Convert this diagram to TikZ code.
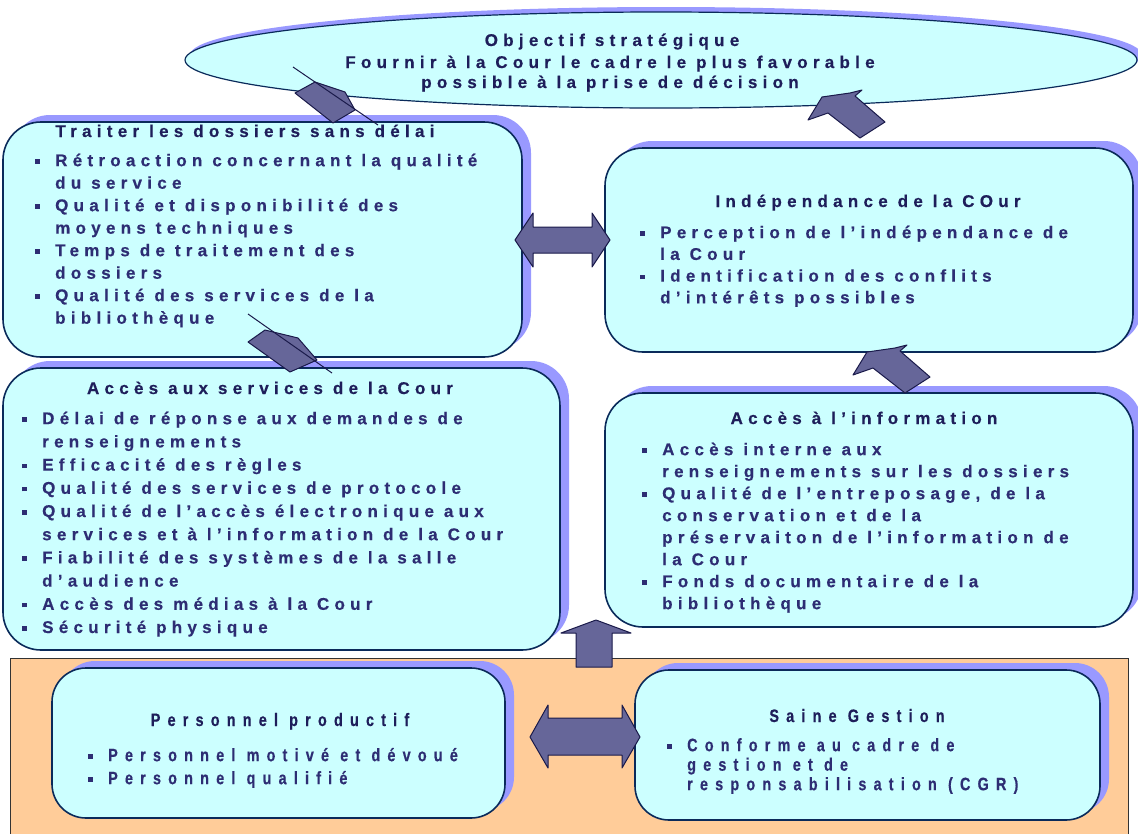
\documentclass[tikz,border=0pt]{standalone}
\usepackage{fontspec}
\setmainfont{Liberation Sans}
\newfontfamily\spc{Liberation Sans}[LetterSpace=31,FakeBold=0.4]
\newfontfamily\spn{Liberation Sans}[LetterSpace=40,FakeStretch=0.8,FakeBold=0.4]
\usetikzlibrary{shapes.geometric,shadows}
\definecolor{boxfill}{HTML}{CCFFFF}
\definecolor{shad}{HTML}{9999FF}
\definecolor{bord}{HTML}{0A2A5A}
\definecolor{txt}{HTML}{2D2D73}
\definecolor{ttl}{HTML}{1E1E5A}
\definecolor{arr}{HTML}{666699}
\definecolor{arrb}{HTML}{1A1A4A}
\definecolor{orng}{HTML}{FFCC99}
\newcommand\bul{\makebox[20pt][l]{\rule[2.5pt]{4.5pt}{4.5pt}}}
\newcommand\cnt{\hspace*{20pt}}
\newcommand\fst{\rule{0pt}{14pt}}
\begin{document}
\begin{tikzpicture}[x=1pt,y=-1pt,
  box/.style={draw=bord,line width=1.6pt,fill=boxfill,rounded corners=38pt,inner sep=0pt,
     drop shadow={shadow xshift=9pt,shadow yshift=7pt,fill=shad,opacity=1}},
  ttlnode/.style={anchor=base,inner sep=0pt,text=ttl,font=\spc\bfseries\fontsize{17}{22.5}\selectfont},
  body/.style={anchor=north west,inner sep=0pt,align=left,text=txt,font=\spc\bfseries\fontsize{17}{#1}\selectfont},
  body/.default=22.5,
  ttlc/.style={ttlnode,font=\spn\bfseries\fontsize{18}{22}\selectfont},
  bodyc/.style={body,font=\spn\bfseries\fontsize{18}{#1}\selectfont},
  blk/.style={fill=arr,draw=arrb,line width=1pt,line join=round},
  blkline/.style={draw=arrb,line width=1pt}]
\useasboundingbox (0,0) rectangle (1138,833);
\fill[white] (0,0) rectangle (1138,833);
% bottom panel
\node[draw=black!80,line width=1pt,fill=orng,minimum width=1118pt,minimum height=190pt,inner sep=0pt] (panel) at (569,753) {};
% boxes
\node[box,minimum width=519pt,minimum height=235pt] (b1) at (262.5,239.5) {};
\node[box,minimum width=528pt,minimum height=204pt] (b2) at (869,250) {};
\node[box,minimum width=557pt,minimum height=282pt] (b3) at (281.5,509) {};
\node[box,minimum width=528pt,minimum height=234pt] (b4) at (869,510) {};
\node[box,rounded corners=34pt,minimum width=453pt,minimum height=150pt] (b5) at (278.5,743) {};
\node[box,rounded corners=34pt,minimum width=465pt,minimum height=150pt] (b6) at (867.5,745) {};
% ellipse
\node[draw=bord,line width=1.2pt,fill=boxfill,ellipse,inner sep=0pt,minimum width=952pt,minimum height=96pt,
  drop shadow={shadow xshift=5pt,shadow yshift=5pt,fill=shad,opacity=1}] (obj) at (661,60) {};
% texts
\node[ttlnode] (e1) at (612,46) {Objectif stratégique};
\node[ttlnode] (e2) at (610,68) {Fournir à la Cour le cadre le plus favorable};
\node[ttlnode] (e3) at (610,88) {possible à la prise de décision};

\node[ttlnode] (t1) at (245,137) {Traiter les dossiers sans délai};
\node[body] (x1) at (35,152) {\fst\bul Rétroaction concernant la qualité\\
\cnt du service\\
\bul Qualité et disponibilité des\\
\cnt moyens techniques\\
\bul Temps de traitement des\\
\cnt dossiers\\
\bul Qualité des services de la\\
\cnt bibliothèque};

\node[ttlnode] (t2) at (868,207) {Indépendance de la COur};
\node[body=21.7] (x2) at (640,224) {\fst\bul Perception de l’indépendance de\\
\cnt la Cour\\
\bul Identification des conflits\\
\cnt d’intérêts possibles};

\node[ttlnode] (t3) at (270,394) {Accès aux services de la Cour};
\node[body=23.2] (x3) at (22,410) {\fst\bul Délai de réponse aux demandes de\\
\cnt renseignements\\
\bul Efficacité des règles\\
\bul Qualité des services de protocole\\
\bul Qualité de l’accès électronique aux\\
\cnt services et à l’information de la Cour\\
\bul Fiabilité des systèmes de la salle\\
\cnt d’audience\\
\bul Accès des médias à la Cour\\
\bul Sécurité physique};

\node[ttlnode] (t4) at (864,424) {Accès à l’information};
\node[body=22] (x4) at (642,441) {\fst\bul Accès interne aux\\
\cnt renseignements sur les dossiers\\
\bul Qualité de l’entreposage, de la\\
\cnt conservation et de la\\
\cnt préservaiton de l’information de\\
\cnt la Cour\\
\bul Fonds documentaire de la\\
\cnt bibliothèque};

\node[ttlc] (t5) at (280,726) {Personnel productif};
\node[bodyc=23] (x5) at (88,747) {\fst\bul Personnel motivé et dévoué\\
\bul Personnel qualifié};

\node[ttlc] (t6) at (857,722) {Saine Gestion};
\node[bodyc=19.5] (x6) at (667,737) {\fst\bul Conforme au cadre de\\
\cnt gestion et de\\
\cnt responsabilisation (CGR)};

% block arrows
\draw[blk] (295,93) -- (315,82) -- (345,92) -- (355,110) -- (333,123) -- cycle;
\draw[blkline] (293,67) -- (378,125);
\draw[blk] (248,342) -- (265,330) -- (298,338) -- (317,360) -- (290,372) -- cycle;
\draw[blkline] (248,314) -- (332,373);
\draw[blk] (808,120) -- (822,97) -- (850,93) -- (862,90) -- (855,96) -- (885,122) -- (860,138) -- (828,113) -- cycle;
\draw[blk] (853,375) -- (867,352) -- (895,348) -- (907,345) -- (900,351) -- (930,377) -- (905,393) -- (873,368) -- cycle;
\draw[blk] (515,240) -- (533,213) -- (533,227) -- (592,227) -- (592,213) -- (610,240) -- (592,267) -- (592,253) -- (533,253) -- (533,267) -- cycle;
\draw[blk] (530,737) -- (548,705) -- (548,718) -- (622,718) -- (622,705) -- (640,737) -- (622,768) -- (622,755) -- (548,755) -- (548,768) -- cycle;
\draw[blk] (596,620) -- (631,633) -- (612,633) -- (612,667) -- (576,667) -- (576,633) -- (561,633) -- cycle;
\end{tikzpicture}
\end{document}
